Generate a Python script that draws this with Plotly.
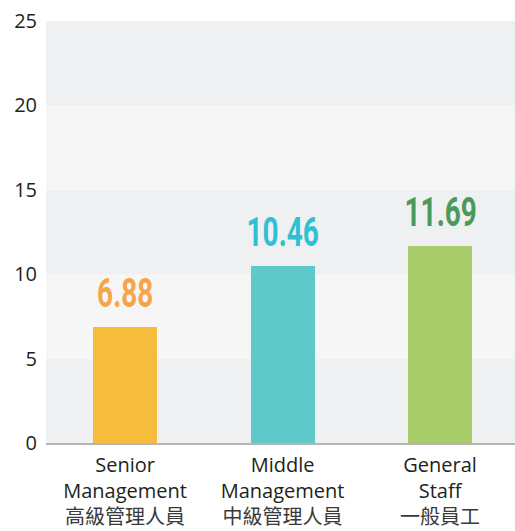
import plotly.graph_objects as go

categories_en1 = ["Senior", "Middle", "General"]
categories_en2 = ["Management", "Management", "Staff"]
categories_zh = ["高級管理人員", "中級管理人員", "一般員工"]
values = [6.88, 10.46, 11.69]
bar_colors = ["#f6bd3c", "#5ec9c9", "#a9cd6b"]
label_colors = ["#f5a64a", "#2fc1d2", "#4b9a5b"]
y_ticks = [0, 5, 10, 15, 20, 25]

x = list(range(len(values)))
ticktext = [f"{a}<br>{b}<br><span style='color:#3a3a3a'>{c}</span>"
            for a, b, c in zip(categories_en1, categories_en2, categories_zh)]

fig = go.Figure()
fig.add_trace(go.Bar(
    x=x, y=values, width=0.406,
    marker=dict(color=bar_colors, line=dict(width=0)),
    hoverinfo="skip",
))

band_colors = ["#eff0f2", "#f6f6f7"]
for i in range(len(y_ticks) - 1):
    fig.add_shape(type="rect", xref="paper", yref="y", x0=0, x1=1,
                  y0=y_ticks[i], y1=y_ticks[i + 1], layer="below",
                  fillcolor=band_colors[i % 2], line=dict(width=0))

for xi, v, c in zip(x, values, label_colors):
    fig.add_annotation(x=xi, y=v, text=f"<b>{v:.2f}</b>", showarrow=False,
                       yanchor="bottom", yshift=8,
                       font=dict(family="Roboto, sans-serif", size=40, color=c))

fig.update_layout(
    width=515, height=531,
    margin=dict(l=46, r=0, t=21, b=88),
    paper_bgcolor="white", plot_bgcolor="white",
    showlegend=False, bargap=0,
    font=dict(family="Open Sans, Noto Sans CJK TC", color="#231f20"),
)
fig.update_xaxes(
    range=[-0.502, 2.476], tickvals=x, ticktext=ticktext,
    tickfont=dict(size=20, family="Open Sans, Noto Sans CJK TC", color="#231f20"),
    showgrid=False, zeroline=False, showline=True, linecolor="#b5b5b8", linewidth=2,
    ticks="", ticklabelstandoff=3,
)
fig.update_yaxes(
    range=[0, 25], tickvals=y_ticks, showgrid=False, zeroline=False,
    tickfont=dict(size=20, family="Open Sans", color="#231f20"),
    ticks="", ticklabelstandoff=8, showline=False,
)

post_script = """
var s = document.createElement('style');
s.textContent = '.annotation-text{transform-box:fill-box;transform-origin:center;transform:scaleX(0.7);}';
document.head.appendChild(s);
"""
fig.write_html("out.html", post_script=post_script)
